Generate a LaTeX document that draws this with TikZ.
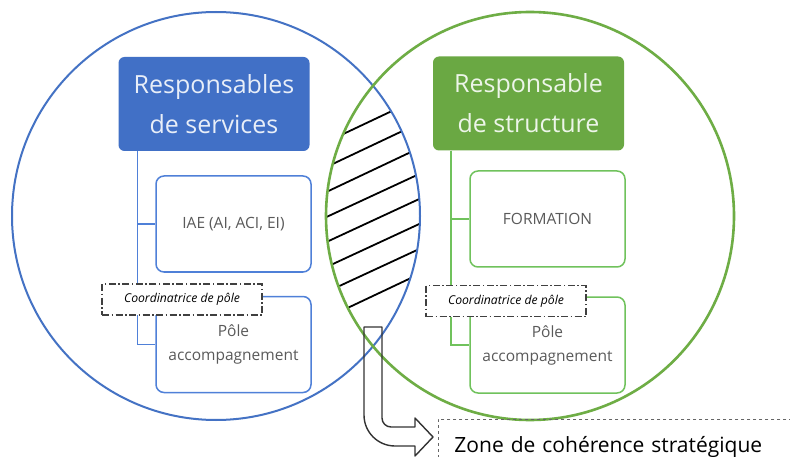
\documentclass[tikz,border=0pt]{standalone}
\usepackage{fontspec}
\setmainfont{Open Sans}
\usetikzlibrary{calc}
\definecolor{ringblue}{HTML}{4472C4}
\definecolor{headblue}{HTML}{4170C6}
\definecolor{lineblue}{HTML}{4F80D8}
\definecolor{ringgreen}{HTML}{6EAD45}
\definecolor{headgreen}{HTML}{6AA843}
\definecolor{linegreen}{HTML}{70C25C}
\definecolor{childtext}{HTML}{5A5A5A}
\tikzset{
  headbox/.style={rounded corners=6pt, align=center, minimum width=191, minimum height=94,
    font=\fontsize{25}{40}\selectfont},
  childbox/.style={draw, fill=white, rounded corners=8pt, line width=1.5pt, align=center,
    minimum width=155, minimum height=96, text=childtext, font=\fontsize{15.5}{24}\selectfont},
  coordbox/.style={draw=black!75, fill=white, dash pattern=on 7pt off 2.5pt on 1.5pt off 2.5pt,
    line width=1.2pt, minimum width=160, minimum height=31,
    font=\fontsize{12.2}{14}\selectfont\itshape},
  zonebox/.style={draw=black!60, dashed, line width=0.9pt, anchor=north west, align=left,
    text width=330pt, inner xsep=16pt, minimum height=56, font=\fontsize{21}{24}\selectfont},
  hatch/.style={line width=1.8pt, black},
}
\begin{document}
\begin{tikzpicture}[x=1pt, y=-1pt]
    \useasboundingbox (0,0) rectangle (790,457);
    \fill[white] (0,0) rectangle (790,457);

    % coordinates to be reused
    \coordinate (cB) at (216,216);
    \coordinate (cG) at (530,216);

    % hatching of the common zone
    \begin{scope}
    \clip (cB) circle[radius=204];
    \clip (cG) circle[radius=204];
    \draw[hatch] (320,145) -- (430,93);
    \draw[hatch] (320,170) -- (430,118);
    \draw[hatch] (320,195) -- (430,143);
    \draw[hatch] (320,220) -- (430,169);
    \draw[hatch] (320,245) -- (430,194);
    \draw[hatch] (320,270) -- (430,219);
    \draw[hatch] (320,295) -- (430,244);
    \draw[hatch] (320,321) -- (430,269);
    \end{scope}

    % draw circles
    \draw[ringblue, line width=2pt] (cB) circle[radius=204];
    \draw[ringgreen, line width=2.6pt] (cG) circle[radius=204];

    % left tree
    \node[headbox, fill=headblue, text=white!88!headblue] (respserv) at (214,104) {Responsables\\de services};
    \node[childbox, draw=lineblue] (iae) at (233.5,224) {IAE (AI, ACI, EI)};
    \node[childbox, draw=lineblue] (poleA) at (233.5,344.5) {Pôle\\accompagnement};
    \draw[lineblue, line width=1.4pt] ([xshift=19]respserv.south west) |- (iae.west);
    \draw[lineblue, line width=1.4pt] ([xshift=19]respserv.south west) |- (poleA.west);
    \node[coordbox] (coordA) at (182,299.5) {Coordinatrice de pôle};

    % right tree
    \node[headbox, fill=headgreen, text=white!88!headgreen] (respstruct) at (528.5,103.5) {Responsable\\de structure};
    \node[childbox, draw=linegreen] (formation) at (547.5,219) {FORMATION};
    \node[childbox, draw=linegreen] (poleB) at (547.5,345) {Pôle\\accompagnement};
    \draw[linegreen, line width=1.4pt] ([xshift=18]respstruct.south west) |- (formation.west);
    \draw[linegreen, line width=1.4pt] ([xshift=18]respstruct.south west) |- (poleB.west);
    \node[coordbox] (coordB) at (506,301) {Coordinatrice de pôle};

    % zone label and bent arrow
    \node[zonebox] (zone) at (438,419) {Zone de cohérence stratégique};
    \draw[black!80, line width=1.4pt, line join=round]
      (364,327) -- (382,327) -- (382,418) arc[start angle=180, end angle=90, radius=9]
      -- (415,427) -- (415,418) -- (433,437) -- (415,456) -- (415,446) -- (395,446)
      arc[start angle=90, end angle=180, radius=31] -- cycle;
\end{tikzpicture}
\end{document}
